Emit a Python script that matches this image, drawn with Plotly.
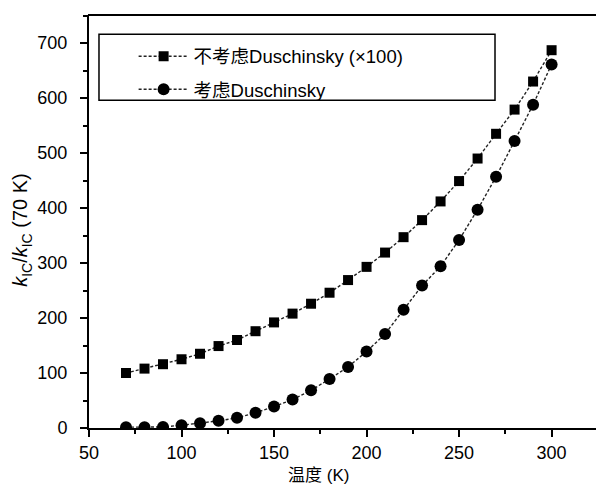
import plotly.graph_objects as go

temps = [70, 80, 90, 100, 110, 120, 130, 140, 150, 160, 170, 180, 190, 200,
         210, 220, 230, 240, 250, 260, 270, 280, 290, 300]
no_dusch_x100 = [100, 108, 116, 125, 135, 149, 160, 176, 192, 208, 226, 246, 269, 293,
                 319, 347, 378, 412, 449, 490, 535, 579, 630, 687]
with_dusch = [1.5, 1.5, 2, 5, 8.7, 13, 18.5, 27.6, 39, 51.7, 68.6, 89, 111, 139,
              171, 215, 259, 294, 342, 397, 457, 522, 588, 661]

name_a = "不考虑Duschinsky (×100)"
name_b = "考虑Duschinsky"

FONT = "Liberation Sans, Arial, Noto Sans CJK SC, sans-serif"

fig = go.Figure()
fig.add_trace(go.Scatter(
    x=temps, y=no_dusch_x100, name=name_a, mode="lines+markers", legendgroup="a",
    line=dict(color="#222", width=1.4, dash="3px,2px"),
    marker=dict(symbol="square", size=10, color="black"),
))
fig.add_trace(go.Scatter(
    x=temps, y=with_dusch, name=name_b, mode="lines+markers", legendgroup="b",
    line=dict(color="#222", width=1.4, dash="3px,2px"),
    marker=dict(symbol="circle", size=12, color="black"),
))

fig.update_layout(
    width=596, height=488,
    margin=dict(l=89, r=0, t=15, b=60, pad=0),
    paper_bgcolor="white", plot_bgcolor="white",
    font=dict(family=FONT, size=18, color="black"),
    showlegend=True,
    legend=dict(
        x=0.088, y=0.945, xanchor="left", yanchor="top",
        bgcolor="rgba(0,0,0,0)", borderwidth=0,
        font=dict(family=FONT, size=18.5, color="black"),
        traceorder="grouped", tracegroupgap=6,
        itemwidth=50,
    ),
    xaxis=dict(
        range=[50, 324], showline=True, linecolor="black", linewidth=2,
        mirror=False, ticks="outside", ticklen=7, tickwidth=1.5, tickcolor="black",
        tick0=50, dtick=50,
        showgrid=False, zeroline=False,
        minor=dict(ticks="outside", ticklen=4, tickwidth=1.5, tickcolor="black",
                   tick0=50, dtick=25, showgrid=False),
        tickfont=dict(size=18),
    ),
    yaxis=dict(
        range=[0, 751], showline=True, linecolor="black", linewidth=2,
        mirror=False, ticks="outside", ticklen=7, tickwidth=1.5, tickcolor="black",
        tick0=0, dtick=100,
        showgrid=False, zeroline=False, ticklabelstandoff=9,
        minor=dict(ticks="outside", ticklen=4, tickwidth=1.5, tickcolor="black",
                   tick0=0, dtick=50, showgrid=False),
        tickfont=dict(size=18),
    ),
    shapes=[
        dict(type="rect", xref="paper", yref="paper",
             x0=0.0197, x1=0.8008, y0=0.7938, y1=0.9533,
             line=dict(color="black", width=1.5), fillcolor="rgba(0,0,0,0)"),
        dict(type="line", xref="paper", yref="paper", x0=-0.002, x1=1.0, y0=1, y1=1,
             line=dict(color="black", width=2)),
    ],
    annotations=[
        dict(text="温度 (K)", xref="paper", yref="paper", x=0.452, y=-0.115,
             xanchor="center", yanchor="middle", showarrow=False,
             font=dict(family=FONT, size=17, color="black")),
        dict(text="<i>k</i><sub>IC</sub>/<i>k</i><sub>IC</sub> (70 K)",
             xref="paper", yref="paper", x=-0.132, y=0.48, textangle=-90,
             xanchor="center", yanchor="middle", showarrow=False,
             font=dict(family=FONT, size=20, color="black")),
    ],
)

fig.write_html("out.html", config={"displayModeBar": False})
